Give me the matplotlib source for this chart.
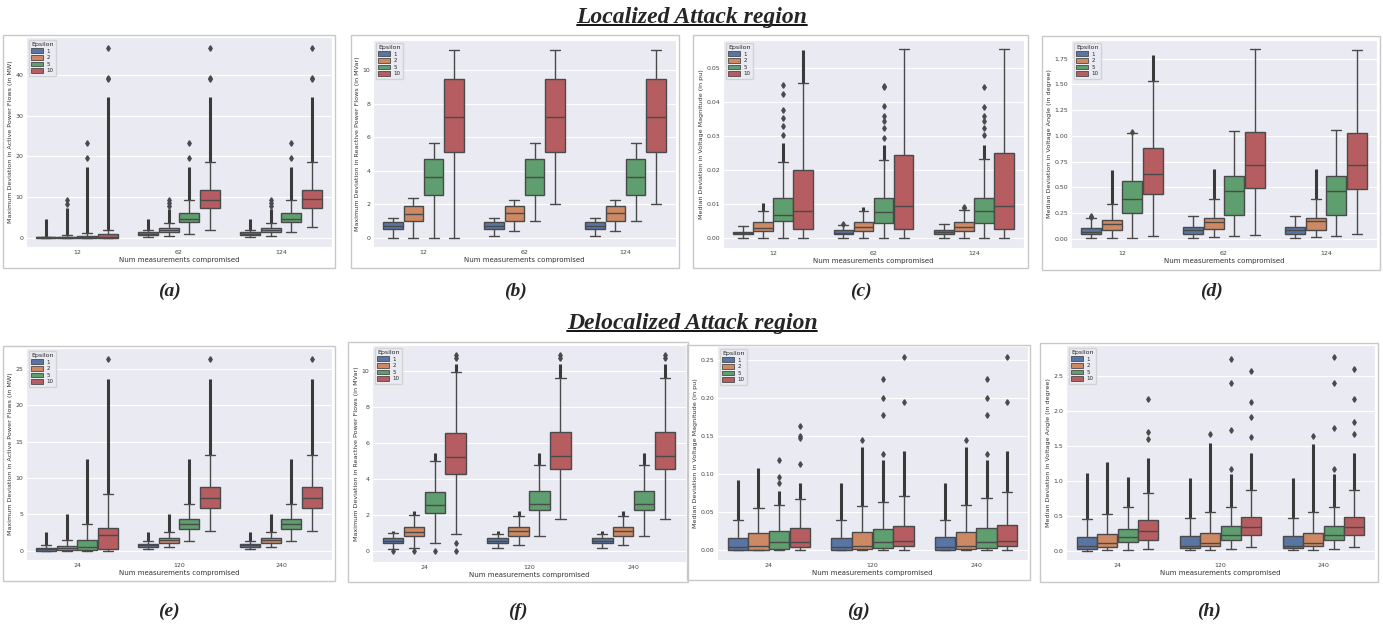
import matplotlib
matplotlib.use('Agg')
import matplotlib.pyplot as plt
import seaborn as sns
from matplotlib.patches import Rectangle, Patch
from matplotlib.lines import Line2D

sns.set_style('darkgrid')
plt.rcParams['font.family'] = ['DejaVu Sans']

# each row: (whislo, q1, median, q3, whishi, top of dense flier column, isolated fliers)
# rows go group by group, epsilon 1, 2, 5, 10 inside each group
EPS = ['1', '2', '5', '10']
LOCAL_X = ['12', '62', '124']
DELOC_X = ['24', '120', '240']

a_rows = [
    (-0.1, 0.0, 0.05, 0.12, 0.25, 4.7, []),
    (0.0, 0.02, 0.1, 0.25, 0.55, 7.2, [8.3, 9.3]),
    (0.0, 0.02, 0.15, 0.4, 1.05, 17.3, [19.5, 23.3]),
    (0.0, 0.02, 0.25, 0.9, 2.0, 34.5, [38.9, 39.3, 46.5]),
    (0.2, 0.7, 1.0, 1.4, 1.9, 4.7, []),
    (0.5, 1.4, 1.9, 2.3, 3.7, 7.0, [7.8, 8.4, 9.3]),
    (1.0, 3.85, 4.6, 5.95, 9.3, 17.3, [19.5, 23.3]),
    (1.95, 7.2, 9.3, 11.75, 18.6, 34.5, [38.9, 39.3, 46.5]),
    (0.2, 0.7, 1.0, 1.4, 1.9, 4.7, []),
    (0.5, 1.4, 1.9, 2.3, 3.7, 7.0, [7.8, 8.4, 9.3]),
    (1.4, 3.85, 4.6, 5.95, 9.3, 17.3, [19.5, 23.3]),
    (2.7, 7.3, 9.5, 11.8, 18.5, 34.5, [38.9, 39.3, 46.5]),
]
b_rows = [
    (0.0, 0.53, 0.7, 0.94, 1.18, None, []),
    (0.0, 1.02, 1.43, 1.91, 2.36, None, []),
    (0.0, 2.56, 3.62, 4.72, 5.67, None, []),
    (0.0, 5.12, 7.22, 9.45, 11.2, None, []),
    (0.12, 0.53, 0.7, 0.94, 1.18, None, []),
    (0.4, 1.02, 1.45, 1.91, 2.26, None, []),
    (0.98, 2.56, 3.62, 4.72, 5.67, None, []),
    (2.0, 5.12, 7.22, 9.45, 11.2, None, []),
    (0.12, 0.53, 0.7, 0.94, 1.18, None, []),
    (0.4, 1.02, 1.45, 1.91, 2.26, None, []),
    (0.98, 2.56, 3.62, 4.72, 5.67, None, []),
    (2.0, 5.12, 7.22, 9.45, 11.2, None, []),
]
c_rows = [
    (0.0, 0.0013, 0.0017, 0.002, 0.0038, None, []),
    (0.0, 0.0022, 0.003, 0.0047, 0.008, 0.0103, []),
    (0.0001, 0.005, 0.007, 0.0119, 0.0225, 0.028, [0.0305, 0.033, 0.0355, 0.0378, 0.0423, 0.0452]),
    (0.0001, 0.0028, 0.008, 0.0201, 0.0456, 0.0555, []),
    (0.0, 0.0012, 0.0017, 0.0024, 0.0041, None, [0.0043]),
    (0.0, 0.0023, 0.0033, 0.0047, 0.008, 0.0092, []),
    (0.0, 0.0046, 0.0079, 0.012, 0.023, 0.0275, [0.0295, 0.0325, 0.0345, 0.036, 0.039, 0.0445, 0.0448]),
    (0.0001, 0.0029, 0.0094, 0.0245, 0.0556, None, []),
    (0.0, 0.0012, 0.0019, 0.0025, 0.0042, None, []),
    (0.0, 0.0023, 0.0035, 0.0047, 0.0085, None, [0.009, 0.0092]),
    (0.0001, 0.0046, 0.008, 0.012, 0.0232, 0.0275, [0.0305, 0.0325, 0.0345, 0.036, 0.0385, 0.0445]),
    (0.0001, 0.0027, 0.0095, 0.025, 0.0557, None, []),
]
d_rows = [
    (0.005, 0.042, 0.065, 0.1, 0.2, None, [0.21, 0.22]),
    (0.006, 0.08, 0.14, 0.185, 0.335, 0.67, []),
    (0.01, 0.25, 0.385, 0.565, 1.03, None, [1.04]),
    (0.025, 0.435, 0.627, 0.877, 1.535, 1.78, []),
    (0.008, 0.045, 0.085, 0.115, 0.22, None, []),
    (0.015, 0.09, 0.16, 0.205, 0.385, 0.68, []),
    (0.03, 0.235, 0.46, 0.61, 1.05, None, []),
    (0.035, 0.49, 0.72, 1.035, 1.84, None, []),
    (0.008, 0.045, 0.085, 0.115, 0.22, None, []),
    (0.015, 0.085, 0.17, 0.205, 0.39, 0.68, []),
    (0.025, 0.235, 0.46, 0.61, 1.055, None, []),
    (0.045, 0.485, 0.72, 1.03, 1.835, None, []),
]
e_rows = [
    (0.0, 0.0, 0.15, 0.32, 0.7, 2.6, []),
    (0.0, 0.1, 0.35, 0.64, 1.45, 5.1, []),
    (0.0, 0.1, 0.55, 1.47, 3.6, 12.6, []),
    (0.0, 0.18, 2.1, 3.17, 7.8, 23.6, [26.4]),
    (0.25, 0.55, 0.7, 0.87, 1.3, 2.6, []),
    (0.5, 1.1, 1.45, 1.74, 2.55, 5.1, []),
    (1.3, 2.94, 3.6, 4.3, 6.4, 12.6, []),
    (2.7, 5.83, 7.25, 8.8, 13.2, 23.6, [26.4]),
    (0.25, 0.55, 0.7, 0.87, 1.3, 2.6, []),
    (0.5, 1.1, 1.45, 1.74, 2.55, 5.1, []),
    (1.3, 2.94, 3.6, 4.3, 6.4, 12.6, []),
    (2.7, 5.83, 7.25, 8.8, 13.2, 23.6, [26.4]),
]
f_rows = [
    (0.08, 0.43, 0.55, 0.69, 1.0, 1.1, [0.0]),
    (0.18, 0.81, 1.05, 1.3, 2.0, 2.2, [0.0]),
    (0.42, 2.11, 2.55, 3.28, 5.0, 5.45, [0.0]),
    (0.92, 4.3, 5.2, 6.55, 9.95, 10.4, [0.0, 0.45, 10.7, 10.9]),
    (0.15, 0.43, 0.55, 0.69, 0.95, 1.1, []),
    (0.33, 0.85, 1.08, 1.3, 1.92, 2.2, []),
    (0.8, 2.26, 2.6, 3.31, 4.78, 5.45, []),
    (1.78, 4.57, 5.3, 6.6, 9.6, 10.4, [10.7, 10.9]),
    (0.15, 0.43, 0.55, 0.69, 0.95, 1.1, []),
    (0.33, 0.85, 1.08, 1.3, 1.92, 2.2, []),
    (0.8, 2.26, 2.6, 3.31, 4.78, 5.45, []),
    (1.78, 4.57, 5.3, 6.6, 9.6, 10.4, [10.7, 10.9]),
]
g_rows = [
    (0.0, 0.001, 0.004, 0.0166, 0.04, 0.092, []),
    (0.0, 0.001, 0.006, 0.023, 0.056, 0.108, []),
    (0.0, 0.002, 0.0105, 0.0257, 0.06, 0.078, [0.088, 0.096, 0.118]),
    (0.0, 0.004, 0.011, 0.030, 0.068, 0.088, [0.113, 0.147, 0.15, 0.163]),
    (0.0, 0.001, 0.004, 0.0166, 0.04, 0.089, []),
    (0.0, 0.0013, 0.0065, 0.0244, 0.058, 0.136, [0.145]),
    (0.0, 0.0035, 0.0105, 0.0275, 0.064, 0.118, [0.126, 0.177, 0.2, 0.225]),
    (0.0, 0.0057, 0.012, 0.032, 0.072, 0.13, [0.195, 0.254]),
    (0.0, 0.001, 0.004, 0.0175, 0.04, 0.089, []),
    (0.0, 0.0013, 0.0065, 0.0248, 0.06, 0.136, [0.145]),
    (0.0, 0.0035, 0.011, 0.0295, 0.069, 0.118, [0.126, 0.177, 0.2, 0.225]),
    (0.0, 0.0057, 0.012, 0.034, 0.077, 0.131, [0.195, 0.254]),
]
h_rows = [
    (0.0, 0.024, 0.065, 0.2, 0.45, 1.12, []),
    (0.01, 0.052, 0.11, 0.24, 0.53, 1.27, []),
    (0.01, 0.124, 0.195, 0.315, 0.625, 1.05, []),
    (0.025, 0.157, 0.285, 0.434, 0.83, 1.33, [1.6, 1.7, 2.17]),
    (0.005, 0.04, 0.07, 0.205, 0.47, 1.04, []),
    (0.01, 0.067, 0.115, 0.25, 0.55, 1.55, [1.67]),
    (0.025, 0.157, 0.225, 0.353, 0.625, 1.1, [1.17, 1.73, 2.4, 2.75]),
    (0.05, 0.22, 0.34, 0.477, 0.875, 1.4, [1.63, 1.91, 2.13, 2.58]),
    (0.005, 0.04, 0.07, 0.205, 0.47, 1.04, []),
    (0.01, 0.067, 0.115, 0.255, 0.555, 1.53, [1.65]),
    (0.02, 0.157, 0.225, 0.355, 0.63, 1.1, [1.17, 1.76, 2.41, 2.78]),
    (0.05, 0.22, 0.34, 0.477, 0.875, 1.4, [1.67, 1.84, 2.17, 2.6]),
]

YL_P = 'Maximum Deviation in Active Power Flows (in MW)'
YL_Q = 'Maximum Deviation in Reactive Power Flows (in MVar)'
YL_V = 'Median Deviation in Voltage Magnitude (in pu)'
YL_A = 'Median Deviation in Voltage Angle (in degree)'

W, H = 1383, 626
fig = plt.figure(figsize=(W / 100, H / 100), dpi=100)
fig.patch.set_facecolor('white')

COLORS = [sns.desaturate(c, 0.75) for c in sns.color_palette('deep', 4)]
GRAY = '#4a4a4a'


def frac(l, t, r, b):
    return [l / W, 1 - b / H, (r - l) / W, (b - t) / H]


# name, rows, groups, ylabel, ylim, yticks, axes box px, frame box px
panels = [
    ('a', a_rows, LOCAL_X, YL_P, (-2.3, 49.3), [0, 10, 20, 30, 40], (26, 37, 332, 247), (3, 35, 335, 268)),
    ('b', b_rows, LOCAL_X, YL_Q, (-0.56, 11.8), [0, 2, 4, 6, 8, 10], (373, 40, 676, 247), (351, 35, 679, 268)),
    ('c', c_rows, LOCAL_X, YL_V, (-0.0028, 0.0583), [0, 0.01, 0.02, 0.03, 0.04, 0.05], (723, 40, 1024, 248), (693, 35, 1028, 268)),
    ('d', d_rows, LOCAL_X, YL_A, (-0.09, 1.93), [0, 0.25, 0.5, 0.75, 1.0, 1.25, 1.5, 1.75], (1071, 40, 1377, 248), (1042, 36, 1380, 270)),
    ('e', e_rows, DELOC_X, YL_P, (-1.3, 27.9), [0, 5, 10, 15, 20, 25], (26, 348, 332, 560), (3, 346, 335, 581)),
    ('f', f_rows, DELOC_X, YL_Q, (-0.62, 11.45), [0, 2, 4, 6, 8, 10], (372, 345, 686, 562), (348, 342, 688, 582)),
    ('g', g_rows, DELOC_X, YL_V, (-0.0125, 0.268), [0, 0.05, 0.1, 0.15, 0.2, 0.25], (717, 346, 1028, 560), (687, 345, 1030, 580)),
    ('h', h_rows, DELOC_X, YL_A, (-0.135, 2.95), [0, 0.5, 1.0, 1.5, 2.0, 2.5], (1066, 345, 1375, 560), (1040, 343, 1378, 582)),
]

for name, rows, groups, ylab, ylim, yticks, axbox, frame in panels:
    l, t, r, b = frame
    fig.patches.append(Rectangle((l / W, 1 - b / H), (r - l) / W, (b - t) / H,
                                 transform=fig.transFigure, fill=False,
                                 edgecolor='#c8c8c8', lw=1.0))
    ax = fig.add_axes(frac(*axbox))
    stats, pos = [], []
    for k, (lo, q1, med, q3, hi, dense, iso) in enumerate(rows):
        stats.append(dict(whislo=lo, q1=q1, med=med, q3=q3, whishi=hi, fliers=iso))
        pos.append(k // 4 + (k % 4 - 1.5) * 0.2)
    res = ax.bxp(stats, positions=pos, widths=0.196, patch_artist=True,
                 boxprops=dict(edgecolor=GRAY, lw=1.0),
                 medianprops=dict(color=GRAY, lw=1.0),
                 whiskerprops=dict(color=GRAY, lw=1.0),
                 capprops=dict(color=GRAY, lw=1.0),
                 flierprops=dict(marker='d', markerfacecolor=GRAY, markeredgecolor=GRAY,
                                 markersize=2.8, linestyle='none'))
    for k, box in enumerate(res['boxes']):
        box.set_facecolor(COLORS[k % 4])
    for k, row in enumerate(rows):
        if row[5] is not None:
            ax.vlines(pos[k], row[4], row[5], color='#3a3a3a', lw=2.2, zorder=1.5)
    ax.set_xlim(-0.5, 2.5)
    ax.set_ylim(*ylim)
    ax.set_xticks(range(3))
    ax.set_xticklabels(groups)
    ax.set_yticks(yticks)
    ax.xaxis.grid(False)
    ax.yaxis.grid(True, color='white', lw=0.8)
    ax.tick_params(labelsize=4.5, pad=2, length=0, colors='#444444')
    ax.set_xlabel('Num measurements compromised', fontsize=5, labelpad=1.5, color='#333333')
    ax.set_ylabel(ylab, fontsize=4.6, labelpad=2, color='#333333')
    handles = [Patch(facecolor=COLORS[i], edgecolor=GRAY, lw=0.6, label=EPS[i]) for i in range(4)]
    ax.legend(handles=handles, title='Epsilon', loc='upper left', fontsize=4,
              title_fontsize=4.5, handlelength=2.2, handleheight=0.9,
              borderpad=0.4, labelspacing=0.25, handletextpad=0.6)

    cx = (l + r) / 2
    cy = 291 if t < 300 else 611
    fig.text(cx / W, 1 - cy / H, '(' + name + ')', ha='center', va='center',
             fontsize=14, fontweight='bold', fontstyle='italic', family='Liberation Serif')

titles = [('Localized Attack region', 17), ('Delocalized Attack region', 323)]
txts = []
for s, y in titles:
    txts.append(fig.text(692 / W, 1 - y / H, s, ha='center', va='center', fontsize=17,
                         fontweight='bold', fontstyle='italic', family='Liberation Serif'))

fig.canvas.draw()
rend = fig.canvas.get_renderer()
for tx in txts:
    bb = tx.get_window_extent(rend).transformed(fig.transFigure.inverted())
    yline = bb.y0 + 0.004
    fig.add_artist(Line2D([bb.x0, bb.x1], [yline, yline], transform=fig.transFigure,
                          color='black', lw=1.3))

fig.savefig('out.png', dpi=100)
